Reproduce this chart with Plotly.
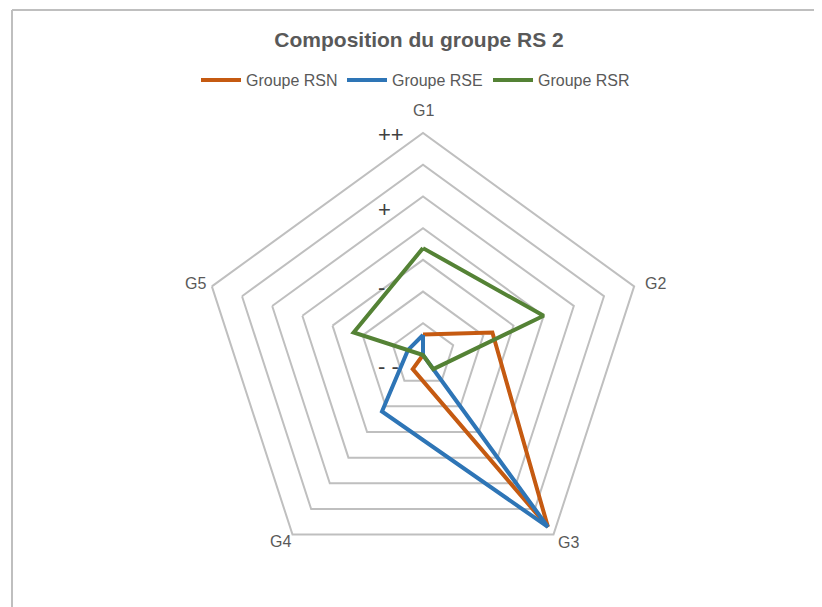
import plotly.graph_objects as go

categories = ["G1", "G2", "G3", "G4", "G5"]
rsn = [0.65, 2.3, 6.7, 0.55, 0.0]
rse = [0.63, 0.0, 6.7, 2.2, 0.5]
rsr = [3.37, 4.0, 0.55, 0.0, 2.3]
series_names = ["Groupe RSN", "Groupe RSE", "Groupe RSR"]
series_colors = ["#C55A11", "#2E75B6", "#548235"]
level_labels = ["++", "+", "-", "- -"]
level_label_y = [134, 210, 287, 366]
category_label_pos = [(423, 110), (655, 283), (568, 542), (280, 541), (195, 283)]

W, H = 822, 607
OFF = 8  # page body margin
FONT = "Liberation Sans, Arial, sans-serif"
GRID = "#BFBFBF"


def px(x):
    return (x - OFF) / W


def py(y):
    return 1 - (y - OFF) / H


fig = go.Figure()
for name, vals, col in zip(series_names, [rsn, rse, rsr], series_colors):
    fig.add_trace(go.Scatterpolar(
        r=vals + vals[:1],
        theta=categories + categories[:1],
        mode="lines",
        name=name,
        line=dict(color=col, width=4),
    ))

cx, cy, R = 423, 355, 222
fig.update_layout(
    width=W, height=H,
    margin=dict(l=0, r=0, t=0, b=0),
    paper_bgcolor="white",
    font=dict(family=FONT, color="#595959", size=16),
    title=dict(text="<b>Composition du groupe RS 2</b>", x=px(419), xanchor="center",
               y=py(40), yanchor="middle", font=dict(size=21, color="#595959")),
    legend=dict(orientation="h", x=px(196), xanchor="left", y=py(80), yanchor="middle",
                font=dict(size=16, color="#595959"), itemwidth=40, entrywidth=91),
    polar=dict(
        domain=dict(x=[px(cx - R), px(cx + R)], y=[py(cy + R), py(cy - R)]),
        bgcolor="white",
        gridshape="linear",
        radialaxis=dict(range=[0, 7], dtick=1, showticklabels=False, ticks="",
                        showline=False, gridcolor=GRID, gridwidth=2),
        angularaxis=dict(rotation=90, direction="clockwise", showgrid=False, ticks="",
                         showline=True, linecolor=GRID, linewidth=2,
                         showticklabels=False),
    ),
    shapes=[
        dict(type="line", xref="paper", yref="paper", x0=px(12), x1=1.02, y0=py(10), y1=py(10),
             line=dict(color=GRID, width=2)),
        dict(type="line", xref="paper", yref="paper", x0=px(12), x1=px(12), y0=-0.02, y1=py(10),
             line=dict(color=GRID, width=2)),
    ],
)

for cat, (lx, ly) in zip(categories, category_label_pos):
    fig.add_annotation(text=cat, xref="paper", yref="paper", x=px(lx), y=py(ly),
                       xanchor="center", yanchor="middle", showarrow=False,
                       font=dict(size=16, color="#595959"))

for txt, yy in zip(level_labels, level_label_y):
    fig.add_annotation(text=txt, xref="paper", yref="paper", x=px(376), y=py(yy),
                       xanchor="left", yanchor="middle", showarrow=False,
                       font=dict(size=22, color="#404040"))

fig.write_html("out.html")
